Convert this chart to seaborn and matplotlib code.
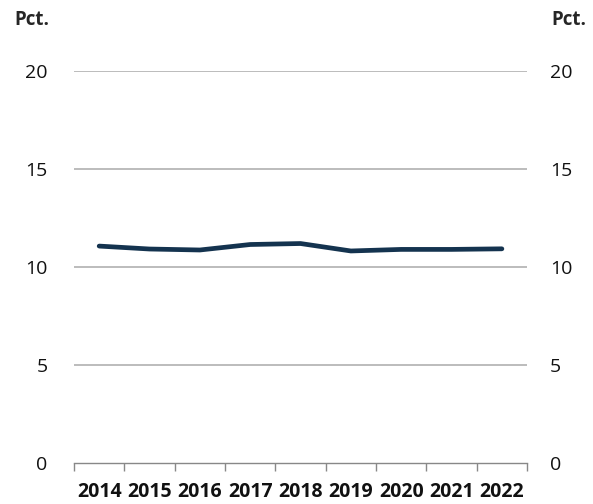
import matplotlib
matplotlib.use("Agg")
import numpy as np
import pandas as pd
import seaborn as sns
from matplotlib import pyplot as plt

years = ["2014", "2015", "2016", "2017", "2018", "2019", "2020", "2021", "2022"]
values = [11.07, 10.92, 10.87, 11.15, 11.2, 10.82, 10.9, 10.9, 10.93]
y_ticks = [0, 5, 10, 15, 20]

sns.set_style("white")
plt.rcParams['font.family'] = ['Open Sans', 'DejaVu Sans']

df = pd.DataFrame({"pos": np.arange(len(years)), "value": values})

fig = plt.figure(figsize=(5.93, 5.04), dpi=100)
ax = fig.add_axes([0.1248, 0.0813, 0.764, 0.7777])

sns.lineplot(data=df, x="pos", y="value", color="#14334f", linewidth=3.4,
             solid_capstyle="round", ax=ax, zorder=3)

ax.set_xlim(-0.5, len(years) - 0.5)
ax.set_ylim(0, 20)
ax.set_xlabel("")
ax.set_ylabel("")

for sp in ["top", "left", "right"]:
    ax.spines[sp].set_visible(False)
ax.spines["bottom"].set_color("#888888")
ax.spines["bottom"].set_linewidth(1.0)

for v in y_ticks[1:]:
    ax.axhline(v, color="#b0b0b0", linewidth=1.2, zorder=1)

# boundaries as major ticks, year labels on minor ticks
ax.set_xticks(np.arange(-0.5, len(years), 1.0))
ax.set_xticklabels([])
ax.tick_params(axis="x", which="major", direction="out", length=6, width=1, color="#888888", bottom=True)
ax.set_xticks(np.arange(len(years)), minor=True)
ax.set_xticklabels(years, minor=True, fontsize=14, fontweight="bold")
ax.tick_params(axis="x", which="minor", length=0, pad=14, labelcolor="#111111")

ax.set_yticks(y_ticks)
ax.set_yticklabels([str(v) for v in y_ticks], fontsize=14)
ax.tick_params(axis="y", length=0, pad=19, labelcolor="#111111", left=False)

ax2 = ax.twinx()
ax2.set_ylim(0, 20)
ax2.set_yticks(y_ticks)
ax2.set_yticklabels([str(v) for v in y_ticks], fontsize=14)
ax2.tick_params(axis="y", length=0, pad=16.5, labelcolor="#111111", right=False)
for sp in ax2.spines.values():
    sp.set_visible(False)

fig.text(14 / 593, 1 - 25 / 504, "Pct.", fontsize=13.5, fontweight="bold", ha="left", va="baseline")
fig.text(551 / 593, 1 - 25 / 504, "Pct.", fontsize=13.5, fontweight="bold", ha="left", va="baseline")

fig.savefig("out.png", dpi=100)
